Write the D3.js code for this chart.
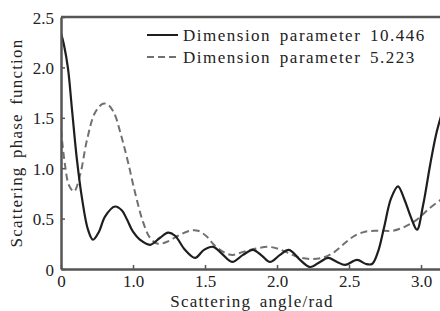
<!DOCTYPE html>
<html>
<head>
<meta charset="utf-8">
<script src="https://cdn.jsdelivr.net/npm/d3@7/dist/d3.min.js"></script>
<style>
body { margin: 0; background: #fff; }
text { font-family: "Liberation Serif", "DejaVu Serif", serif; fill: #222; }
</style>
</head>
<body>
<script>
// scattering angle (rad) and phase function values
var angle1 = [0, 0.042, 0.097, 0.153, 0.222, 0.292, 0.375, 0.444, 0.528, 0.611, 0.75, 0.847, 0.917, 1.0,
  1.049, 1.118, 1.188, 1.243, 1.292, 1.361, 1.431, 1.493, 1.556, 1.618, 1.688, 1.764, 1.833, 1.896, 1.951,
  2.021, 2.083, 2.160, 2.229, 2.299, 2.354, 2.417, 2.472, 2.556, 2.618, 2.660, 2.701, 2.743, 2.792, 2.840,
  2.882, 2.931, 2.972, 3.014, 3.063, 3.104, 3.14];
var phase1 = [2.34, 2.22, 1.99, 1.58, 1.08, 0.70, 0.39, 0.29, 0.37, 0.52, 0.62, 0.58, 0.49, 0.37,
  0.29, 0.24, 0.31, 0.36, 0.33, 0.19, 0.11, 0.19, 0.22, 0.15, 0.07, 0.14, 0.19, 0.13, 0.07,
  0.14, 0.19, 0.09, 0.02, 0.07, 0.11, 0.07, 0.04, 0.09, 0.05, 0.05, 0.17, 0.41, 0.70, 0.82,
  0.70, 0.51, 0.39, 0.63, 1.03, 1.33, 1.52];

var angle2 = [0, 0.056, 0.111, 0.181, 0.264, 0.361, 0.472, 0.583, 0.653, 0.736, 0.833, 0.931, 1.014,
  1.069, 1.118, 1.174, 1.236, 1.313, 1.396, 1.451, 1.514, 1.569, 1.639, 1.694, 1.764, 1.847, 1.938,
  2.007, 2.076, 2.146, 2.229, 2.313, 2.389, 2.458, 2.528, 2.611, 2.701, 2.806, 2.889, 2.972, 3.049, 3.14];
var phase2 = [1.38, 1.03, 0.83, 0.77, 0.93, 1.28, 1.55, 1.64, 1.63, 1.55, 1.33, 1.06, 0.76,
  0.47, 0.31, 0.25, 0.27, 0.33, 0.38, 0.38, 0.32, 0.23, 0.16, 0.14, 0.17, 0.20, 0.22,
  0.20, 0.16, 0.12, 0.10, 0.11, 0.16, 0.24, 0.32, 0.37, 0.38, 0.38, 0.42, 0.49, 0.59, 0.69];

var seriesNames = ["Dimension parameter 10.446", "Dimension parameter 5.223"];
var xTicks = [0, 1.0, 1.5, 2.0, 2.5, 3.0];
var yTicks = [0, 0.5, 1.0, 1.5, 2.0, 2.5];

var W = 440, H = 311;
var svg = d3.select("body").append("svg").attr("width", W).attr("height", H);

// the printed axis puts 0 and 1.0 one step apart, then 0.5 per step
var x = d3.scaleLinear().domain([0, 1, Math.PI]).range([61, 133, 441.4]);
var y = d3.scaleLinear().domain([0, 2.5]).range([269, 17]);

svg.append("clipPath").attr("id", "clip").append("rect")
  .attr("x", 61).attr("y", 15).attr("width", 380).attr("height", 256);

var line = d3.line()
  .x(function(d){ return x(d[0]); })
  .y(function(d){ return y(d[1]); })
  .curve(d3.curveCatmullRom.alpha(0.5));

var data1 = angle1.map(function(a, i){ return [a, phase1[i]]; });
var data2 = angle2.map(function(a, i){ return [a, phase2[i]]; });

var g = svg.append("g").attr("clip-path", "url(#clip)");
g.append("path").datum(data2).attr("d", line)
  .attr("fill", "none").attr("stroke", "#707070").attr("stroke-width", 2)
  .attr("stroke-dasharray", "7,4");
g.append("path").datum(data1).attr("d", line)
  .attr("fill", "none").attr("stroke", "#1e1e1e").attr("stroke-width", 2.2);

// axes
var fmt = function(d){ return d === 0 ? "0" : d3.format(".1f")(d); };

var xAxis = d3.axisBottom(x).tickValues(xTicks).tickSizeInner(-4).tickSizeOuter(0).tickFormat(fmt);
var gx = svg.append("g").attr("transform", "translate(0,269)").call(xAxis);
gx.select(".domain").attr("stroke", "#555").attr("stroke-width", 2.5);
gx.selectAll(".tick line").attr("stroke", "#555").attr("stroke-width", 1.5);
gx.selectAll(".tick text").attr("y", 6).attr("dy", "0.71em")
  .style("font-size", "17px").style("font-family", "Liberation Serif").attr("fill", "#333");

var yAxis = d3.axisLeft(y).tickValues(yTicks).tickSizeInner(-4).tickSizeOuter(0).tickFormat(fmt);
var gy = svg.append("g").attr("transform", "translate(61,0)").call(yAxis);
gy.select(".domain").attr("stroke", "#555").attr("stroke-width", 2.5);
gy.selectAll(".tick line").attr("stroke", "#555").attr("stroke-width", 1.5);
gy.selectAll(".tick text").attr("x", -7).attr("dy", "0.36em")
  .style("font-size", "17px").style("font-family", "Liberation Serif").attr("fill", "#333");

// top frame
svg.append("line").attr("x1", 61).attr("x2", 440).attr("y1", 17).attr("y2", 17)
  .attr("stroke", "#555").attr("stroke-width", 2.5);

// axis titles
svg.append("text").attr("x", 252).attr("y", 307).attr("text-anchor", "middle")
  .style("font-size", "17px").style("letter-spacing", "1.2px").style("word-spacing", "3px")
  .text("Scattering angle/rad");
svg.append("text").attr("transform", "translate(22,143) rotate(-90)").attr("text-anchor", "middle")
  .style("font-size", "17px").style("letter-spacing", "1.2px").style("word-spacing", "3px")
  .text("Scattering phase function");

// legend
var legend = svg.append("g");
seriesNames.forEach(function(name, i){
  var ly = 35 + i * 22;
  legend.append("line").attr("x1", 147).attr("x2", 178).attr("y1", ly).attr("y2", ly)
    .attr("stroke", i === 0 ? "#1e1e1e" : "#707070").attr("stroke-width", 2)
    .attr("stroke-dasharray", i === 0 ? null : "7,4");
  legend.append("text").attr("x", 183).attr("y", ly + 6)
    .style("font-size", "17px").style("letter-spacing", "1.5px").style("word-spacing", "3px")
    .text(name);
});
</script>
</body>
</html>
